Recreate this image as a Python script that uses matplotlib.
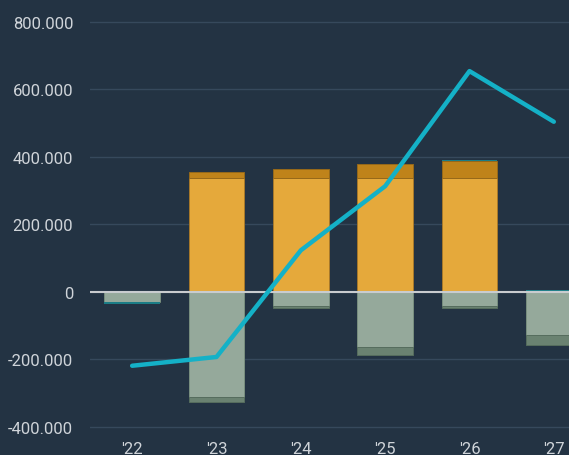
import matplotlib
matplotlib.use("Agg")
import matplotlib.pyplot as plt
import numpy as np

years = ["'22", "'23", "'24", "'25", "'26", "'27"]
pos_base = [0, 336000, 336000, 336000, 336000, 0]
pos_mid = [0, 18000, 28000, 41000, 50000, 0]
pos_top = [0, 0, 0, 0, 4000, 3000]
neg_base = [-32000, -312000, -44000, -165000, -44000, -129000]
neg_mid = [0, -16000, -4000, -23000, -6000, -29000]
neg_end = [-4000, 0, 0, 0, 0, 0]
line_vals = [-220000, -194000, 122000, 312000, 653000, 503000]
yticks = [-400000, -200000, 0, 200000, 400000, 600000, 800000]
ytick_labels = ["-400.000", "-200.000", "0", "200.000", "400.000", "600.000", "800.000"]

bg = "#233343"
plt.rcParams['font.family'] = ['Roboto', 'DejaVu Sans']

fig = plt.figure(figsize=(5.69, 4.56), dpi=100, facecolor=bg)
W, H = 569, 456
ax = fig.add_axes([90 / W, (H - 436) / H, 1 - 90 / W, 436 / H])
ax.set_facecolor(bg)

x = np.arange(len(years))
w = 0.66
edge = dict(linewidth=0.7)

ax.bar(x, pos_base, w, color="#e5a93b", edgecolor="#a8792a", zorder=2, **edge)
b1 = np.array(pos_base)
ax.bar(x, pos_mid, w, bottom=b1, color="#bf831a", edgecolor="#96691a", zorder=2, **edge)
b2 = b1 + np.array(pos_mid)
ax.bar(x, pos_top, w, bottom=b2, color="#1b7d86", edgecolor="#1b7d86", zorder=2, linewidth=0)

ax.bar(x, neg_base, w, color="#95a99b", edgecolor="#788e7f", zorder=2, **edge)
n1 = np.array(neg_base)
ax.bar(x, neg_mid, w, bottom=n1, color="#6a8271", edgecolor="#566d5e", zorder=2, **edge)
n2 = n1 + np.array(neg_mid)
ax.bar(x, neg_end, w, bottom=n2, color="#1b7d86", edgecolor="#1b7d86", zorder=2, linewidth=0)

ax.axhline(0, color="#c9cccf", linewidth=1.5, zorder=3)
ax.plot(x, line_vals, color="#14b1c7", linewidth=3.2, zorder=4, solid_capstyle="round")

ax.set_xlim(-0.5, 5.18)
ax.set_ylim(-425185, 866667)
ax.set_yticks(yticks)
ax.set_yticklabels(ytick_labels)
ax.set_xticks(x)
ax.set_xticklabels(years)
ax.grid(axis="y", color="#36495c", linewidth=1.0, zorder=0)
ax.set_axisbelow(True)
for s in ax.spines.values():
    s.set_visible(False)
ax.tick_params(axis="y", length=0, pad=12, labelsize=12, labelcolor="#cfd4d9")
ax.tick_params(axis="x", length=0, pad=4.5, labelsize=12, labelcolor="#cfd4d9")

fig.savefig("out.png", dpi=100, facecolor=bg)
